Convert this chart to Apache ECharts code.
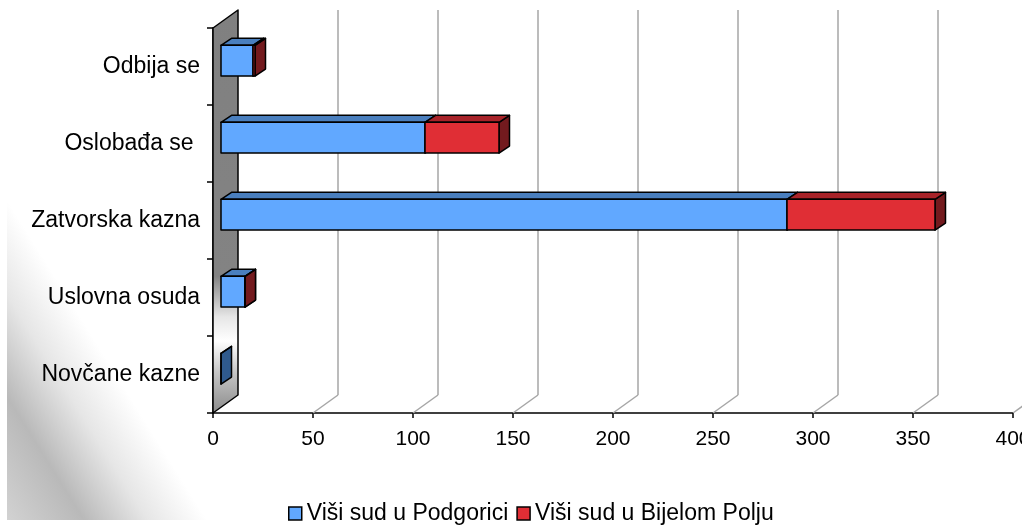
<!DOCTYPE html>
<html>
<head>
<meta charset="utf-8">
<script src="https://cdn.jsdelivr.net/npm/echarts@6/dist/echarts.min.js"></script>
<style>
  html, body { margin: 0; padding: 0; background: #fff; }
  #chart { width: 1022px; height: 527px; }
</style>
</head>
<body>
<div id="chart"></div>
<script>
// Presude po vrsti sankcije, dva viša suda
const categories = ['Odbija se', 'Oslobađa se ', 'Zatvorska kazna', 'Uslovna osuda', 'Novčane kazne'];
const seriesNames = ['Viši sud u Podgorici', 'Viši sud u Bijelom Polju'];
const podgorica = [16, 102, 283, 12, 0];
const bijeloPolje = [1, 37, 74, 0, null];
const xTicks = [0, 50, 100, 150, 200, 250, 300, 350, 400];

// oblique projection used for the pseudo-3D look
const WALL_DX = 25, WALL_DY = -18;           // depth of the back wall / floor
const BAR_OFFSET_X = 8, BAR_OFFSET_Y = -5.8; // bars sit a little behind the front plane
const BAR_DX = 10.5, BAR_DY = -7;            // depth of each bar
const BAR_RATIO = 0.4;                       // bar thickness relative to the category band

const FONT = '"Liberation Sans", Arial, Helvetica, sans-serif';
const EDGE = { stroke: '#000', lineWidth: 1.5, lineJoin: 'round' };

// stacked segments: [categoryIndex, start, end]
function segments(starts, values) {
  const out = [];
  values.forEach((v, i) => {
    if (v != null) out.push([i, starts[i], starts[i] + v]);
  });
  return out;
}
const podData = segments(podgorica.map(() => 0), podgorica);
const bpData = segments(podgorica, bijeloPolje);

function barRenderer(front, top, side) {
  return function (params, api) {
    const cat = api.value(0);
    const p0 = api.coord([api.value(1), cat]);
    const p1 = api.coord([api.value(2), cat]);
    const h = api.size([0, 1])[1] * BAR_RATIO;
    const x0 = p0[0] + BAR_OFFSET_X;
    const x1 = p1[0] + BAR_OFFSET_X;
    const yt = p0[1] + BAR_OFFSET_Y - h / 2;
    const yb = yt + h;
    return {
      type: 'group',
      children: [
        { type: 'polygon',
          shape: { points: [[x1, yt], [x1 + BAR_DX, yt + BAR_DY], [x1 + BAR_DX, yb + BAR_DY], [x1, yb]] },
          style: Object.assign({ fill: side }, EDGE) },
        { type: 'polygon',
          shape: { points: [[x0, yt], [x1, yt], [x1 + BAR_DX, yt + BAR_DY], [x0 + BAR_DX, yt + BAR_DY]] },
          style: Object.assign({ fill: top }, EDGE) },
        { type: 'rect',
          shape: { x: x0, y: yt, width: x1 - x0, height: h },
          style: Object.assign({ fill: front }, EDGE) }
      ]
    };
  };
}

// side wall behind the category axis
function wallRenderer(params, api) {
  const cs = params.coordSys;
  const x = api.coord([0, 0])[0];
  const yTop = cs.y, yBot = cs.y + cs.height;
  return {
    type: 'polygon',
    shape: { points: [[x, yTop], [x + WALL_DX, yTop + WALL_DY], [x + WALL_DX, yBot + WALL_DY], [x, yBot]] },
    style: {
      fill: {
        type: 'linear', x: 0, y: 0, x2: 0, y2: 1,
        colorStops: [
          { offset: 0, color: '#808080' },
          { offset: 0.66, color: '#838383' },
          { offset: 0.76, color: '#e6e6e6' },
          { offset: 0.82, color: '#ffffff' },
          { offset: 0.9, color: '#c4c4c4' },
          { offset: 1, color: '#8a8a8a' }
        ]
      },
      stroke: '#000', lineWidth: 1.5, lineJoin: 'round'
    }
  };
}

// floor diagonals and back-wall gridlines at each value tick
function gridRenderer(params, api) {
  const cs = params.coordSys;
  const x = api.coord([api.value(0), 0])[0];
  const yTop = cs.y, yBot = cs.y + cs.height;
  const style = { stroke: '#a6a6a6', lineWidth: 1.5 };
  return {
    type: 'group',
    children: [
      { type: 'line', shape: { x1: x, y1: yBot, x2: x + WALL_DX, y2: yBot + WALL_DY }, style },
      { type: 'line', shape: { x1: x + WALL_DX, y1: yBot + WALL_DY, x2: x + WALL_DX, y2: yTop + WALL_DY }, style }
    ]
  };
}

const chart = echarts.init(document.getElementById('chart'), null, { renderer: 'canvas' });

chart.setOption({
  animation: false,
  backgroundColor: '#fff',
  graphic: [{
    type: 'rect',
    z: -10,
    shape: { x: 7, y: 0, width: 1015, height: 520 },
    style: {
      fill: {
        type: 'linear', global: true,
        x: -237.4, y: 148.4, x2: -84.8, y2: 53,
        colorStops: [
          { offset: 0, color: '#d6d6d6' },
          { offset: 0.42, color: '#b9b9b9' },
          { offset: 0.72, color: '#e6e6e6' },
          { offset: 1, color: '#ffffff' }
        ]
      }
    },
    silent: true
  }],
  grid: { left: 213, top: 28, width: 800, height: 385, containLabel: false, outerBoundsMode: 'none' },
  legend: {
    data: seriesNames,
    left: 288,
    top: 502,
    padding: 0,
    icon: 'rect',
    itemWidth: 13,
    itemHeight: 13,
    itemGap: 8,
    itemStyle: { borderColor: '#000', borderWidth: 1.5 },
    textStyle: { fontSize: 23, fontFamily: FONT, color: '#000' }
  },
  xAxis: {
    type: 'value',
    min: xTicks[0],
    max: xTicks[xTicks.length - 1],
    interval: xTicks[1] - xTicks[0],
    axisLine: { show: true, lineStyle: { color: '#000', width: 1.5 } },
    axisTick: { show: true, length: 5, lineStyle: { color: '#000', width: 1.5 } },
    splitLine: { show: false },
    axisLabel: { fontSize: 21, fontFamily: FONT, color: '#000', margin: 16, hideOverlap: false }
  },
  yAxis: {
    type: 'category',
    data: categories,
    inverse: true,
    axisLine: { show: true, lineStyle: { color: '#000', width: 1.5 } },
    axisTick: { show: true, length: 6, lineStyle: { color: '#000', width: 1.5 } },
    splitLine: { show: false },
    axisLabel: { fontSize: 23, fontFamily: FONT, color: '#000', margin: 13 }
  },
  series: [
    {
      type: 'custom', name: 'grid', silent: true, z: 1,
      data: xTicks.filter(t => t > 0).map(t => [t, 0]),
      encode: { x: 0, y: 1 },
      renderItem: gridRenderer
    },
    {
      type: 'custom', name: 'wall', silent: true, z: 1,
      data: [[0, 0]],
      encode: { x: 0, y: 1 },
      renderItem: wallRenderer
    },
    {
      type: 'custom', name: seriesNames[0], z: 3,
      itemStyle: { color: '#61a8ff' },
      data: podData,
      encode: { x: [1, 2], y: 0 },
      renderItem: barRenderer('#61a8ff', '#4a7fbe', '#2f5a8d')
    },
    {
      type: 'custom', name: seriesNames[1], z: 4,
      itemStyle: { color: '#e02e35' },
      data: bpData,
      encode: { x: [1, 2], y: 0 },
      renderItem: barRenderer('#e02e35', '#a82329', '#731a1e')
    }
  ]
});
</script>
</body>
</html>
